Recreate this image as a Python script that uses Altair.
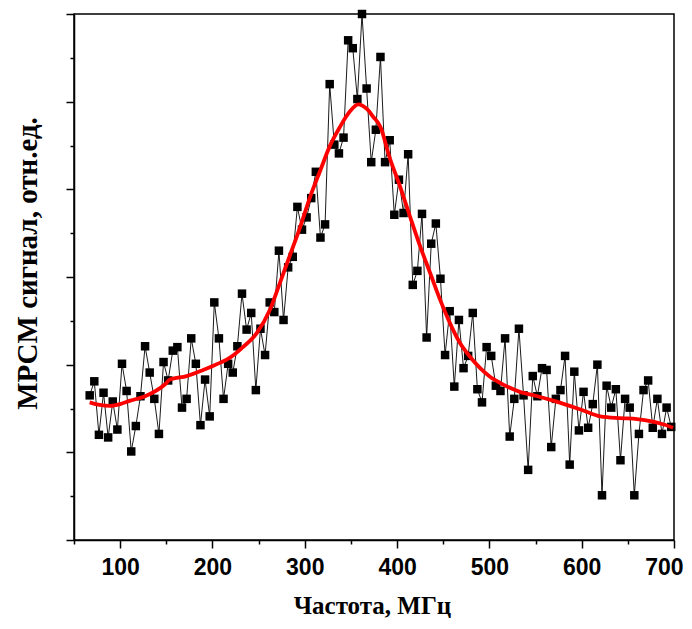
import altair as alt
import pandas as pd

# Measured signal (MHz, arbitrary units)
freq = [67, 72, 77, 82, 87, 92, 97, 102, 107, 112,
        117, 122, 127, 132, 137, 142, 147, 152, 157, 162,
        167, 172, 177, 182, 187, 192, 197, 202, 207, 212,
        217, 222, 227, 232, 237, 242, 247, 252, 257, 262,
        267, 272, 277, 282, 287, 292, 297, 302, 307, 312,
        317, 322, 327, 332, 337, 342, 347, 352, 357, 362,
        367, 372, 377, 382, 387, 392, 397, 402, 407, 412,
        417, 422, 427, 432, 437, 442, 447, 452, 457, 462,
        467, 472, 477, 482, 487, 492, 497, 502, 507, 512,
        517, 522, 527, 532, 537, 542, 547, 552, 557, 562,
        567, 572, 577, 582, 587, 592, 597, 602, 607, 612,
        617, 622, 627, 632, 637, 642, 647, 652, 657, 662,
        667, 672, 677, 682, 687, 692, 697]
signal = [1.65, 1.81, 1.20, 1.68, 1.17, 1.58, 1.26, 2.01, 1.70, 1.01,
          1.30, 1.64, 2.21, 1.91, 1.61, 1.21, 2.03, 1.82, 2.16, 2.20,
          1.51, 1.61, 2.30, 2.01, 1.31, 1.83, 1.41, 2.71, 2.30, 1.61,
          2.01, 1.91, 2.21, 2.81, 2.40, 2.59, 1.71, 2.41, 2.11, 2.71,
          2.60, 3.30, 2.51, 3.11, 3.23, 3.80, 3.54, 3.68, 3.90, 4.20,
          3.45, 3.60, 5.20, 4.51, 4.41, 4.59, 5.70, 5.61, 5.03, 6.00,
          5.15, 4.31, 4.68, 5.51, 4.31, 4.56, 3.71, 4.11, 3.73, 4.40,
          2.91, 3.07, 3.72, 2.31, 3.38, 3.61, 2.98, 2.11, 2.61, 1.75,
          2.51, 1.96, 2.10, 2.59, 1.72, 1.57, 2.20, 2.10, 1.76, 1.70,
          2.30, 1.18, 1.61, 2.41, 1.65, 0.80, 1.87, 1.64, 1.96, 1.94,
          1.06, 1.61, 1.71, 2.10, 0.86, 1.92, 1.25, 1.69, 1.28, 1.55,
          2.00, 0.51, 1.76, 1.51, 1.72, 0.91, 1.61, 1.51, 0.51, 1.21,
          1.71, 1.82, 1.28, 1.61, 1.21, 1.51, 1.29]

# Fitted curve
fit_freq = [67, 78, 89, 100, 111, 127, 149, 154, 172, 190,
            208, 219, 233, 248, 262, 273, 284, 295, 306, 317,
            327, 338, 349, 358, 367, 374, 382, 392, 403, 414,
            425, 436, 447, 457, 468, 479, 490, 501, 512, 533,
            552, 569, 587, 601, 620, 642, 660, 677, 688, 699]
fit_val = [1.57, 1.54, 1.53, 1.55, 1.59, 1.64, 1.78, 1.83, 1.87, 1.94,
           2.02, 2.08, 2.20, 2.36, 2.62, 2.93, 3.25, 3.57, 3.92, 4.22,
           4.49, 4.71, 4.89, 4.97, 4.92, 4.83, 4.71, 4.36, 4.04, 3.69,
           3.35, 3.04, 2.73, 2.48, 2.25, 2.09, 1.96, 1.86, 1.79, 1.69,
           1.64, 1.59, 1.53, 1.48, 1.41, 1.39, 1.38, 1.35, 1.32, 1.28]

x_ticks = [50, 100, 150, 200, 250, 300, 350, 400, 450, 500, 550, 600, 650, 700]
y_ticks = [0, 0.5, 1, 1.5, 2, 2.5, 3, 3.5, 4, 4.5, 5, 5.5, 6]

df = pd.DataFrame({"f": freq, "s": signal})
fit = pd.DataFrame({"f": fit_freq, "s": fit_val})

x_scale = alt.Scale(domain=[50, 700], nice=False, zero=False)
y_scale = alt.Scale(domain=[0, 6], nice=False, zero=False)

x_axis = alt.Axis(
    values=x_ticks,
    labelExpr="datum.value % 100 === 0 ? datum.label : ''",
    tickSize={"condition": {"test": "datum.value % 100 === 0", "value": 8}, "value": 4},
    labelFont="Liberation Sans", labelFontWeight="bold", labelFontSize=23,
    labelColor="black", labelPadding=8, labelFlush=True, labelFlushOffset=9,
    title="Частота, МГц", titleFont="Liberation Serif", titleFontWeight="bold",
    titleFontSize=25, titleColor="black", titleX=298, titleY=65,
    titleAnchor="middle", titleBaseline="middle", titleAlign="center",
    grid=False,
)
y_axis = alt.Axis(
    values=y_ticks,
    labels=False,
    tickSize={"condition": {"test": "datum.value % 1 === 0", "value": 8}, "value": 4},
    title="МРСМ сигнал, отн.ед.", titleFont="Liberation Serif", titleFontWeight="bold",
    titleFontSize=29, titleColor="black", titleAngle=270, titleX=-47, titleY=249,
    titleAlign="center", titleBaseline="middle",
    grid=False,
)

base = alt.Chart(df)

line = base.mark_line(color="black", strokeWidth=0.9).encode(
    x=alt.X("f:Q", scale=x_scale, axis=x_axis),
    y=alt.Y("s:Q", scale=y_scale, axis=y_axis),
)
pts = base.mark_square(color="black", size=72, opacity=1).encode(
    x=alt.X("f:Q", scale=x_scale),
    y=alt.Y("s:Q", scale=y_scale),
)
curve = alt.Chart(fit).mark_line(color="#ff0000", strokeWidth=3.8, interpolate="monotone").encode(
    x=alt.X("f:Q", scale=x_scale),
    y=alt.Y("s:Q", scale=y_scale),
)

chart = alt.layer(line, pts, curve).properties(
    width=600, height=526,
    autosize=alt.AutoSizeParams(type="none"),
    padding={"left": 66, "top": 6, "right": 10, "bottom": 78},
    background="white",
).configure_view(
    stroke="black", strokeWidth=1.5
).configure_axis(
    domainColor="black", domainWidth=1.5, tickColor="black", tickWidth=1.5,
)

chart.save("out.html", embed_options={"renderer": "svg", "actions": False})
